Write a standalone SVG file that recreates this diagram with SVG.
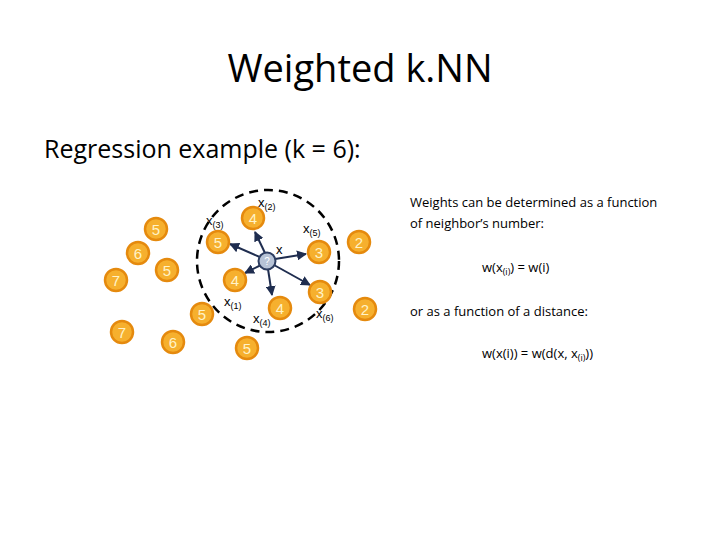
<svg xmlns="http://www.w3.org/2000/svg" width="720" height="540" viewBox="0 0 720 540">
<style>
.t{font-family:"Open Sans","Liberation Sans",sans-serif;fill:#000}
.n circle{fill:#f6b02e;stroke:#e58a0e;stroke-width:2.5}
.n text{font-family:"Liberation Sans",sans-serif;font-size:15px;fill:#fff3c8;text-anchor:middle}
.l{font-family:"Liberation Sans",sans-serif;font-size:13px}
.s{font-size:9px}
</style>
<defs><marker id="a" viewBox="0 0 10 10" refX="9" refY="5" markerWidth="5" markerHeight="5" orient="auto"><path d="M0,0L10,5L0,10z" fill="#1f2d4f"/></marker></defs>
<rect width="720" height="540" fill="#fff"/>
<text class="t" x="360" y="82" font-size="38" text-anchor="middle">Weighted k.NN</text>
<text class="t" x="44" y="158" font-size="25">Regression example (k = 6):</text>
<circle cx="268" cy="261" r="71" fill="none" stroke="#000" stroke-width="2.5" stroke-dasharray="9,6"/>
<g id="connectors" stroke="#1f2d4f" stroke-width="2" marker-end="url(#a)">
<line x1="262" y1="258" x2="230" y2="244"/>
<line x1="265" y1="253" x2="255" y2="232"/>
<line x1="275" y1="259" x2="306" y2="254"/>
<line x1="274" y1="265" x2="310" y2="285"/>
<line x1="268" y1="269" x2="272" y2="295"/>
<line x1="261" y1="265" x2="245" y2="273"/>
</g>
<g class="n" id="n1"><circle cx="156" cy="229" r="11"/><text x="156" y="235">5</text></g>
<g class="n" id="n2"><circle cx="138" cy="253" r="11"/><text x="138" y="259">6</text></g>
<g class="n" id="n3"><circle cx="167" cy="270" r="11"/><text x="167" y="276">5</text></g>
<g class="n" id="n4"><circle cx="116" cy="280" r="11"/><text x="116" y="286">7</text></g>
<g class="n" id="n5"><circle cx="122" cy="332" r="11"/><text x="122" y="338">7</text></g>
<g class="n" id="n6"><circle cx="173" cy="342" r="11"/><text x="173" y="348">6</text></g>
<g class="n" id="n7"><circle cx="202" cy="314" r="11"/><text x="202" y="320">5</text></g>
<g class="n" id="n8"><circle cx="218" cy="242" r="11"/><text x="218" y="248">5</text></g>
<g class="n" id="n9"><circle cx="253" cy="218" r="11"/><text x="253" y="224">4</text></g>
<g class="n" id="n10"><circle cx="235" cy="280" r="11"/><text x="235" y="286">4</text></g>
<g class="n" id="n11"><circle cx="280" cy="308" r="11"/><text x="280" y="314">4</text></g>
<g class="n" id="n12"><circle cx="247" cy="348" r="11"/><text x="247" y="354">5</text></g>
<g class="n" id="n13"><circle cx="319" cy="252" r="11"/><text x="319" y="258">3</text></g>
<g class="n" id="n14"><circle cx="320" cy="292" r="11"/><text x="320" y="298">3</text></g>
<g class="n" id="n15"><circle cx="359" cy="242" r="11"/><text x="359" y="248">2</text></g>
<g class="n" id="n16"><circle cx="365" cy="309" r="11"/><text x="365" y="315">2</text></g>
<g id="q"><circle cx="267" cy="261" r="8.5" fill="#b7c3d6" stroke="#2d3d60" stroke-width="2"/><text x="267" y="265" font-family="Liberation Sans,sans-serif" font-size="10" fill="#fff" text-anchor="middle">?</text></g>
<g class="t l">
<text x="258" y="207">x<tspan class="s" dy="3">(2)</tspan></text>
<text x="206" y="225">x<tspan class="s" dy="3">(3)</tspan></text>
<text x="303" y="233">x<tspan class="s" dy="3">(5)</tspan></text>
<text x="276" y="254">x</text>
<text x="224" y="306">x<tspan class="s" dy="3">(1)</tspan></text>
<text x="253" y="323">x<tspan class="s" dy="3">(4)</tspan></text>
<text x="316" y="318">x<tspan class="s" dy="3">(6)</tspan></text>
</g>
<g class="t" font-size="13">
<text x="410" y="207">Weights can be determined as  a function</text>
<text x="410" y="228">of neighbor’s number:</text>
<text x="482" y="272">w(x<tspan font-size="9" dy="3">(i)</tspan><tspan dy="-3">) = w(i)</tspan></text>
<text x="410" y="316">or as a function of a distance:</text>
<text x="482" y="358">w(x(i)) = w(d(x, x<tspan font-size="9" dy="3">(i)</tspan><tspan dy="-3">))</tspan></text>
</g>
</svg>
